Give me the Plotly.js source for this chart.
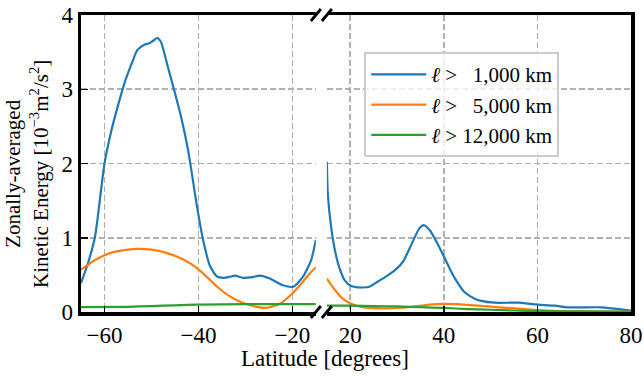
<!DOCTYPE html>
<html>
<head>
<meta charset="utf-8">
<script src="https://cdn.plot.ly/plotly-3.0.1.min.js"></script>
<style>html,body{margin:0;padding:0;background:#fff;}#chart{width:644px;height:376px;}</style>
</head>
<body>
<div id="chart"></div>
<script>
// ---- Data ----
const seriesNames = ["<i>ℓ</i> > \u20071,000 km", "<i>ℓ</i> > \u20075,000 km", "<i>ℓ</i> > 12,000 km"];

// Southern segment (left panel)
const latS_1k = [-65, -63.5, -62, -60, -58.5, -57, -55.5, -54, -53, -51.5, -50.5, -49.7, -48.8, -48, -46.5, -45, -43.7, -42.2, -40.3, -39, -37.6, -36.1, -34.7, -33.5, -32.2, -30.5, -28.5, -26.9, -24.8, -22, -19.8, -17.7, -16, -15];
const keS_1k  = [0.39, 0.66, 1.02, 2.0, 2.45, 2.81, 3.13, 3.38, 3.53, 3.60, 3.62, 3.65, 3.69, 3.64, 3.30, 2.95, 2.63, 2.18, 1.42, 0.97, 0.63, 0.48, 0.46, 0.47, 0.49, 0.46, 0.47, 0.49, 0.45, 0.36, 0.34, 0.48, 0.70, 0.97];

const latS_5k = [-65, -62, -58.5, -55, -53, -50, -47, -43, -40.3, -38, -36, -33.3, -30.5, -27.6, -25.5, -22.7, -20, -18.4, -16.3, -15];
const keS_5k  = [0.57, 0.70, 0.80, 0.84, 0.85, 0.84, 0.80, 0.70, 0.59, 0.46, 0.34, 0.21, 0.12, 0.07, 0.055, 0.11, 0.25, 0.36, 0.52, 0.60];

const latS_12k = [-65, -55, -50, -45, -40, -30, -20, -15];
const keS_12k  = [0.065, 0.07, 0.08, 0.09, 0.10, 0.105, 0.105, 0.105];

// Northern segment (right panel)
const latN_1k = [15, 15.2, 15.9, 16.7, 17.7, 18.8, 20.2, 22.3, 24.1, 25.9, 27.7, 29.5, 31.3, 33, 34.8, 35.7, 37, 38.4, 40, 41.6, 43, 44.4, 46.6, 48, 50.9, 55.8, 60, 63.7, 66.5, 73.6, 76.5, 80];
const keN_1k  = [2.02, 1.6, 1.15, 0.84, 0.59, 0.43, 0.35, 0.33, 0.34, 0.41, 0.48, 0.56, 0.68, 0.90, 1.13, 1.17, 1.10, 0.95, 0.75, 0.54, 0.39, 0.27, 0.18, 0.15, 0.125, 0.125, 0.10, 0.085, 0.063, 0.063, 0.045, 0.02];

const latN_5k = [15, 16.7, 18.4, 20.2, 22.3, 27, 33, 37, 40, 43, 45, 52, 60, 65, 70, 80];
const keN_5k  = [0.45, 0.30, 0.18, 0.11, 0.07, 0.05, 0.07, 0.10, 0.11, 0.105, 0.095, 0.063, 0.027, 0.012, 0.006, 0.003];

const latN_12k = [15, 20, 25, 30, 35, 40, 45, 50, 55, 60, 70, 80];
const keN_12k  = [0.085, 0.085, 0.08, 0.075, 0.065, 0.055, 0.04, 0.03, 0.02, 0.012, 0.008, 0.005];

const ticksS = [-60, -40, -20];
const ticksN = [20, 40, 60, 80];
const ticksY = [0, 1, 2, 3, 4];

// ---- Styles ----
const colors = ["#1f77b4", "#ff7f0e", "#2ca02c"];
const FONT = "'Liberation Serif', 'DejaVu Serif', serif";
const lw = 2.2;

function tr(x, y, i, panel, show) {
  return {
    x: x, y: y, type: "scatter", mode: "lines",
    line: {color: colors[i], width: lw, shape: "spline", smoothing: 0.6},
    name: seriesNames[i], showlegend: show,
    xaxis: panel === 0 ? "x" : "x2",
    yaxis: panel === 0 ? "y" : "y2",
    hoverinfo: "skip"
  };
}

const data = [
  tr(latS_1k, keS_1k, 0, 0, true),
  tr(latS_5k, keS_5k, 1, 0, true),
  tr(latS_12k, keS_12k, 2, 0, true),
  tr(latN_1k, keN_1k, 0, 1, false),
  tr(latN_5k, keN_5k, 1, 1, false),
  tr(latN_12k, keN_12k, 2, 1, false)
];

const grid = {showgrid: true, gridcolor: "#b0b0b0", gridwidth: 1.6, griddash: "6px,3px"};
const tickFont = {family: FONT, size: 23, color: "#000"};

const breakLine = {color: "#000", width: 2.8};
function brk(xref, yref, xa, ya) {
  return {type: "line", xref: xref, yref: yref, xsizemode: "pixel", ysizemode: "pixel",
          xanchor: xa, yanchor: ya, x0: -5, x1: 5, y0: -6, y1: 6, line: breakLine, layer: "above"};
}

const layout = {
  width: 644, height: 376,
  margin: {l: 81, r: 13, t: 15, b: 64},
  paper_bgcolor: "#fff", plot_bgcolor: "rgba(0,0,0,0)",
  font: {family: FONT, size: 22, color: "#000"},
  showlegend: true,
  legend: {
    x: 0.515, y: 0.875, xanchor: "left", yanchor: "top",
    bgcolor: "rgba(255,255,255,0.8)", bordercolor: "#cccccc", borderwidth: 2,
    font: {family: FONT, size: 21, color: "#000"},
    itemwidth: 55, tracegroupgap: 0
  },
  xaxis: Object.assign({
    domain: [0, 0.427], range: [-65, -15], tickmode: "array", tickvals: ticksS,
    ticks: "inside", ticklen: 6, tickwidth: 1.5, tickcolor: "#000",
    showline: true, linecolor: "#000", linewidth: 3.5, mirror: true,
    zeroline: false, tickfont: tickFont, anchor: "y"
  }, grid),
  xaxis2: Object.assign({
    domain: [0.447, 1], range: [15, 80], tickmode: "array", tickvals: ticksN,
    ticks: "inside", ticklen: 6, tickwidth: 1.5, tickcolor: "#000",
    showline: true, linecolor: "#000", linewidth: 3.5, mirror: true,
    zeroline: false, tickfont: tickFont, anchor: "y2"
  }, grid),
  yaxis: Object.assign({
    range: [0, 4], tickmode: "array", tickvals: ticksY,
    ticks: "inside", ticklen: 7, tickwidth: 1.5, tickcolor: "#000",
    showline: true, linecolor: "#000", linewidth: 3.5,
    zeroline: false, tickfont: tickFont, anchor: "x"
  }, grid),
  yaxis2: Object.assign({
    range: [0, 4], tickmode: "array", tickvals: ticksY, matches: "y",
    side: "right", ticks: "", showticklabels: false,
    showline: true, linecolor: "#000", linewidth: 3.5,
    zeroline: false, anchor: "x2"
  }, grid),
  annotations: [
    {text: "Latitude [degrees]", xref: "paper", yref: "paper", x: 0.4436, y: -0.158,
     xanchor: "center", yanchor: "middle", showarrow: false, font: {family: FONT, size: 23, color: "#000"}},
    {text: "Zonally-averaged<br>Kinetic Energy [10<sup>−3</sup>m<sup>2</sup>/s<sup>2</sup>]",
     xref: "paper", yref: "paper", x: -0.098, y: 0.465, textangle: -90,
     xanchor: "center", yanchor: "middle", showarrow: false, font: {family: FONT, size: 21, color: "#000"}}
  ],
  shapes: [
    brk("x domain", "y domain", 1, 1),
    brk("x domain", "y domain", 1, 0),
    brk("x2 domain", "y2 domain", 0, 1),
    brk("x2 domain", "y2 domain", 0, 0)
  ]
};

Plotly.newPlot("chart", data, layout, {staticPlot: true, displayModeBar: false});
</script>
</body>
</html>
